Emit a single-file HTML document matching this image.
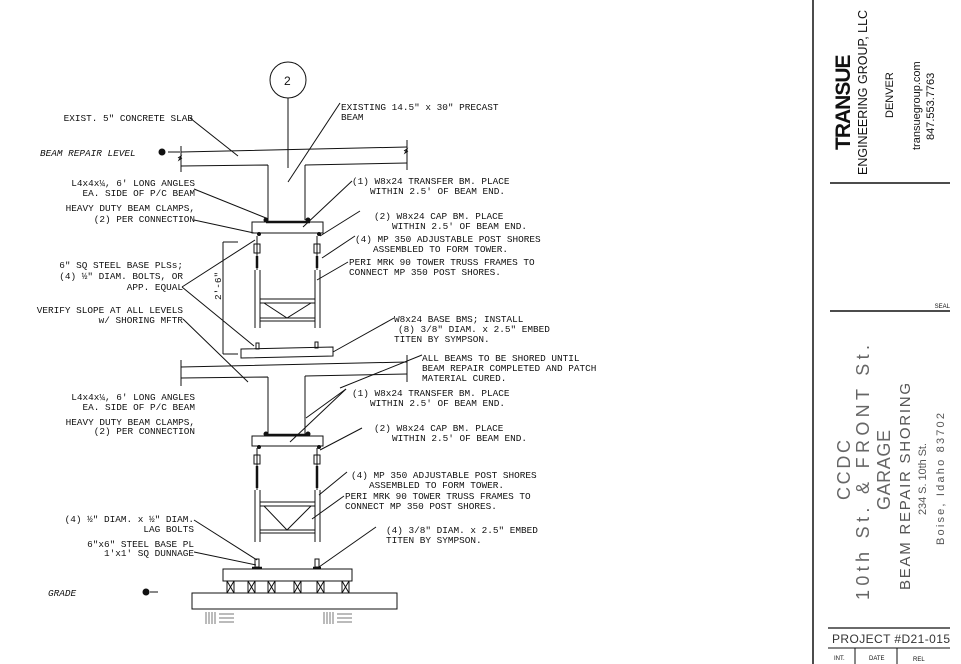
<!DOCTYPE html>
<html><head><meta charset="utf-8"><style>
html,body{margin:0;padding:0;background:#fff;}
svg{display:block;}
.t{font-family:"Liberation Mono",monospace;font-size:9.4px;fill:#111;}
.i{font-style:italic;}
.l{stroke:#111;stroke-width:1;fill:none;}
</style></head><body>
<svg width="961" height="664" viewBox="0 0 961 664" xmlns="http://www.w3.org/2000/svg">
<rect width="961" height="664" fill="#fff"/>
<line x1="813" y1="0" x2="813" y2="664" stroke="#111" stroke-width="1.5"/>
<line x1="830" y1="183" x2="950" y2="183" stroke="#111" stroke-width="1.5"/>
<line x1="830" y1="311" x2="950" y2="311" stroke="#111" stroke-width="1.5"/>
<line x1="828" y1="628" x2="950" y2="628" stroke="#111" stroke-width="1.2"/>
<line x1="828" y1="648" x2="950" y2="648" stroke="#111" stroke-width="1"/>
<line x1="855" y1="648" x2="855" y2="664" stroke="#111"/>
<line x1="897" y1="648" x2="897" y2="664" stroke="#111"/>
<g font-family="'Liberation Sans',sans-serif">
<text transform="translate(850,150) rotate(-90)" font-size="21" font-weight="bold" fill="#111" letter-spacing="-1">TRANSUE</text>
<text transform="translate(867,175) rotate(-90)" font-size="12.5" fill="#111">ENGINEERING GROUP, LLC</text>
<text transform="translate(893,118) rotate(-90)" font-size="11" fill="#111">DENVER</text>
<text transform="translate(920,150) rotate(-90)" font-size="11" fill="#111">transuegroup.com</text>
<text transform="translate(934,140) rotate(-90)" font-size="11" fill="#111">847.553.7763</text>
<text x="950" y="308" font-size="6" text-anchor="end" fill="#111">SEAL</text>
<text transform="translate(850,500) rotate(-90)" font-size="18" fill="#666" textLength="60" lengthAdjust="spacing">CCDC</text>
<text transform="translate(869,600) rotate(-90)" font-size="18" fill="#666" textLength="255" lengthAdjust="spacing">10th St. &amp; FRONT St.</text>
<text transform="translate(890,510) rotate(-90)" font-size="18" fill="#666" textLength="80" lengthAdjust="spacing">GARAGE</text>
<text transform="translate(910,590) rotate(-90)" font-size="15" fill="#555" textLength="207" lengthAdjust="spacing">BEAM REPAIR SHORING</text>
<text transform="translate(926,515) rotate(-90)" font-size="11" fill="#555" textLength="72" lengthAdjust="spacing">234 S. 10th St.</text>
<text transform="translate(944,545) rotate(-90)" font-size="11" fill="#555" textLength="132" lengthAdjust="spacing">Boise, Idaho 83702</text>
<text x="832" y="643" font-size="12" fill="#333" textLength="118" lengthAdjust="spacing">PROJECT #D21-015</text>
<text x="834" y="660" font-size="6" fill="#111">INT.</text>
<text x="869" y="660" font-size="6" fill="#111">DATE</text>
<text x="913" y="661" font-size="6" fill="#111">REL</text>
</g>

<circle cx="288" cy="80" r="18" class="l"/>
<text x="284" y="85" font-family="'Liberation Sans',sans-serif" font-size="12" fill="#111">2</text>
<line x1="288" y1="98" x2="288" y2="168" class="l"/>

<path d="M181 152 L407 147 M181 166 L268 165 M305 165 L407 163 M268 165 V220 M305 165 V220" class="l"/>
<path d="M181 146 V172 M178 158 l3 -2 -2 4 3 -2 M407 140 V170 M404 151 l3 -2 -2 4 3 -2" class="l"/>
<rect x="252" y="222" width="71" height="11" class="l"/>
<line x1="266" y1="222" x2="310" y2="222" stroke="#111" stroke-width="2.5"/>
<circle cx="266" cy="220" r="2.5" fill="#111"/><circle cx="308" cy="220" r="2.5" fill="#111"/>
<circle cx="259" cy="234" r="2" fill="#111"/><circle cx="319" cy="234" r="2" fill="#111"/>
<g class="l">
<path d="M257 236 V270 M317 236 V270"/>
<path d="M254 244 h6 v9 h-6z M314 244 h6 v9 h-6z"/>
<path d="M255 270 V328 M260 270 V328 M315 270 V328 M320 270 V328"/>
<path d="M260 299 H315 M260 303 H315 M260 318 H315 M260 321 H315 M264 303 L287 318 L311 303"/>
</g>
<line x1="257" y1="256" x2="257" y2="268" stroke="#111" stroke-width="2.5"/>
<line x1="317" y1="256" x2="317" y2="268" stroke="#111" stroke-width="2.5"/>
<path d="M223 242 V354 M223 242 H238 M223 354 H238" class="l"/>
<text transform="translate(221,300) rotate(-90)" class="t" font-size="6">2'-6"</text>
<path d="M241 349 L333 347 L333 356 L241 358 Z" class="l"/>
<path d="M256 343 h3 v6 h-3z M315 342 h3 v6 h-3z" class="l"/>

<path d="M181 367 L407 362 M181 378 L268 377 M305 376 L407 374 M268 377 V435 M305 376 V435" class="l"/>
<path d="M181 360 V386 M407 355 V382" class="l"/>
<rect x="252" y="436" width="71" height="10" class="l"/>
<line x1="266" y1="435" x2="310" y2="435" stroke="#111" stroke-width="2.5"/>
<circle cx="266" cy="434" r="2.5" fill="#111"/><circle cx="308" cy="434" r="2.5" fill="#111"/>
<circle cx="259" cy="447" r="2" fill="#111"/><circle cx="319" cy="447" r="2" fill="#111"/>
<g class="l">
<path d="M257 448 V490 M317 448 V490"/>
<path d="M254 455 h6 v9 h-6z M314 455 h6 v9 h-6z"/>
<path d="M255 490 V542 M260 490 V542 M315 490 V542 M320 490 V542"/>
<path d="M260 502 H315 M260 506 H315 M260 530 H315 M260 533 H315 M264 506 L287 530 L311 506"/>
</g>
<line x1="257" y1="466" x2="257" y2="488" stroke="#111" stroke-width="2.5"/>
<line x1="317" y1="466" x2="317" y2="488" stroke="#111" stroke-width="2.5"/>
<path d="M255 559 h4 v8 h-4z M315 559 h4 v8 h-4z" class="l"/>
<line x1="252" y1="568" x2="262" y2="568" stroke="#111" stroke-width="2.5"/>
<line x1="313" y1="568" x2="321" y2="568" stroke="#111" stroke-width="2.5"/>
<rect x="223" y="569" width="129" height="12" class="l"/>
<g class="l">
<rect x="227" y="581" width="7" height="12"/><path d="M227 581 l7 12 M234 581 l-7 12"/>
<rect x="248" y="581" width="7" height="12"/><path d="M248 581 l7 12 M255 581 l-7 12"/>
<rect x="268" y="581" width="7" height="12"/><path d="M268 581 l7 12 M275 581 l-7 12"/>
<rect x="294" y="581" width="7" height="12"/><path d="M294 581 l7 12 M301 581 l-7 12"/>
<rect x="317" y="581" width="7" height="12"/><path d="M317 581 l7 12 M324 581 l-7 12"/>
<rect x="342" y="581" width="7" height="12"/><path d="M342 581 l7 12 M349 581 l-7 12"/>
</g>
<rect x="192" y="593" width="205" height="16" class="l"/>
<g stroke="#777" stroke-width="1">
<path d="M206 612 v12 M209 612 v12 M212 612 v12 M215 612 v12 M219 614 h15 M219 618 h15 M219 622 h15"/>
<path d="M324 612 v12 M327 612 v12 M330 612 v12 M333 612 v12 M337 614 h15 M337 618 h15 M337 622 h15"/>
</g>

<g class="l"><path d="M168 152 H180"/></g>
<circle cx="162" cy="152" r="3.5" fill="#111"/>
<circle cx="146" cy="592" r="3.5" fill="#111"/>
<line x1="150" y1="592" x2="158" y2="592" class="l"/>

<g class="l">
<path d="M190 118 L238 156"/>
<path d="M340 103 L288 182"/>
<path d="M352 181 L303 227"/>
<path d="M194 189 L266 218"/>
<path d="M194 220 L254 233"/>
<path d="M360 211 L320 236"/>
<path d="M355 236 L322 258"/>
<path d="M348 262 L317 280"/>
<path d="M182 287 L255 240 M182 287 L254 346"/>
<path d="M183 319 L248 382"/>
<path d="M394 318 L333 352"/>
<path d="M422 355 L340 388"/>
<path d="M346 389 L306 418"/>
<path d="M346 389 L290 442"/>
<path d="M362 428 L320 450"/>
<path d="M347 472 L319 495"/>
<path d="M344 496 L312 519"/>
<path d="M194 520 L257 560"/>
<path d="M194 552 L256 565"/>
<path d="M376 527 L319 567"/>
</g>

<g class="t">
<text x="193" y="121" text-anchor="end">EXIST. 5" CONCRETE SLAB</text>
<text x="40" y="156" class="i">BEAM REPAIR  LEVEL</text>
<text x="195" y="186" text-anchor="end">L4x4x¼, 6' LONG ANGLES</text>
<text x="195" y="196" text-anchor="end">EA. SIDE OF P/C BEAM</text>
<text x="195" y="211" text-anchor="end">HEAVY DUTY BEAM CLAMPS,</text>
<text x="195" y="222" text-anchor="end">(2)  PER CONNECTION</text>
<text x="183" y="268" text-anchor="end">6" SQ STEEL BASE PLSs;</text>
<text x="183" y="279" text-anchor="end">(4) ½" DIAM. BOLTS, OR</text>
<text x="183" y="290" text-anchor="end">APP. EQUAL</text>
<text x="183" y="313" text-anchor="end">VERIFY SLOPE AT ALL LEVELS</text>
<text x="183" y="323" text-anchor="end">w/ SHORING MFTR</text>
<text x="195" y="400" text-anchor="end">L4x4x¼, 6' LONG ANGLES</text>
<text x="195" y="410" text-anchor="end">EA. SIDE OF P/C BEAM</text>
<text x="195" y="425" text-anchor="end">HEAVY DUTY BEAM CLAMPS,</text>
<text x="195" y="434" text-anchor="end">(2)  PER CONNECTION</text>
<text x="194" y="522" text-anchor="end">(4)   ½" DIAM. x ½" DIAM.</text>
<text x="194" y="532" text-anchor="end">LAG BOLTS</text>
<text x="194" y="547" text-anchor="end">6"x6" STEEL BASE PL</text>
<text x="194" y="556" text-anchor="end">1'x1' SQ DUNNAGE</text>
<text x="48" y="596" class="i">GRADE</text>

<text x="341" y="110">EXISTING 14.5" x 30" PRECAST</text>
<text x="341" y="120">BEAM</text>
<text x="352" y="184">(1) W8x24 TRANSFER BM. PLACE</text>
<text x="370" y="194">WITHIN 2.5' OF BEAM END.</text>
<text x="374" y="219">(2) W8x24 CAP BM. PLACE</text>
<text x="392" y="229">WITHIN 2.5' OF BEAM END.</text>
<text x="355" y="242">(4) MP 350 ADJUSTABLE POST SHORES</text>
<text x="373" y="252">ASSEMBLED TO FORM TOWER.</text>
<text x="349" y="265">PERI MRK 90 TOWER TRUSS FRAMES TO</text>
<text x="349" y="275">CONNECT MP 350 POST SHORES.</text>
<text x="394" y="322">W8x24 BASE BMS; INSTALL</text>
<text x="398" y="332">(8) 3/8" DIAM. x 2.5" EMBED</text>
<text x="394" y="342">TITEN BY SYMPSON.</text>
<text x="422" y="361">ALL BEAMS TO BE SHORED UNTIL</text>
<text x="422" y="371">BEAM REPAIR COMPLETED AND PATCH</text>
<text x="422" y="381">MATERIAL CURED.</text>
<text x="352" y="396">(1) W8x24 TRANSFER BM. PLACE</text>
<text x="370" y="406">WITHIN 2.5' OF BEAM END.</text>
<text x="374" y="431">(2) W8x24 CAP BM. PLACE</text>
<text x="392" y="441">WITHIN 2.5' OF BEAM END.</text>
<text x="351" y="478">(4) MP 350 ADJUSTABLE POST SHORES</text>
<text x="369" y="488">ASSEMBLED TO FORM TOWER.</text>
<text x="345" y="499">PERI MRK 90 TOWER TRUSS FRAMES TO</text>
<text x="345" y="509">CONNECT MP 350 POST SHORES.</text>
<text x="386" y="533">(4) 3/8" DIAM. x 2.5" EMBED</text>
<text x="386" y="543">TITEN BY SYMPSON.</text>
</g>
</svg>
</body></html>
